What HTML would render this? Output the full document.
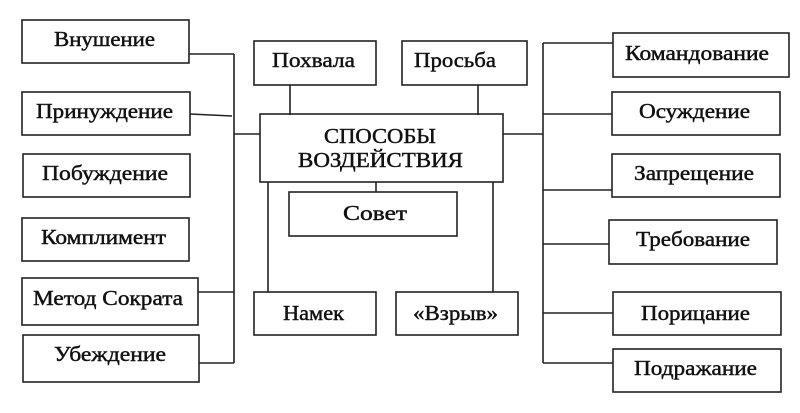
<!DOCTYPE html>
<html><head><meta charset="utf-8"><style>
html,body{margin:0;padding:0;background:#fff;}
svg{display:block;}
text{font-family:"Liberation Serif",serif;font-size:21px;fill:#111;stroke:#111;stroke-width:0.45;}
</style></head><body>
<svg width="800" height="413" viewBox="0 0 800 413" xmlns="http://www.w3.org/2000/svg">
<g fill="none" stroke="#222" stroke-width="1.6">
<rect x="22" y="20" width="167" height="43"/>
<rect x="22" y="92" width="168" height="43"/>
<rect x="23" y="154" width="167" height="43"/>
<rect x="22" y="218" width="167" height="43"/>
<rect x="22" y="278" width="176" height="47"/>
<rect x="23" y="335" width="176" height="47"/>
<rect x="254" y="41" width="122" height="44"/>
<rect x="402" y="41" width="125" height="44"/>
<rect x="260" y="114" width="243" height="68"/>
<rect x="289" y="192" width="168" height="44"/>
<rect x="254" y="292" width="122" height="43"/>
<rect x="396" y="292" width="122" height="43"/>
<rect x="613" y="33" width="176" height="44"/>
<rect x="612" y="92" width="168" height="43"/>
<rect x="612" y="154" width="168" height="43"/>
<rect x="609" y="220" width="168" height="44"/>
<rect x="613" y="292" width="168" height="43"/>
<rect x="613" y="349" width="168" height="43"/>
<path d="M234 54V363M189 54H234M190 114L232 116M198 292H234M199 363H234M234 134H260"/>
<path d="M290 85V115M478 85V115M376 182V192M268 182V292M493 182V292"/>
<path d="M543 43V363M503 134H543M543 43H613M543 114H612M543 190H612M543 244H609M543 313H613M543 363H613"/>
</g>
<text x="54" y="46" textLength="101" lengthAdjust="spacingAndGlyphs">Внушение</text>
<text x="36" y="118" textLength="137" lengthAdjust="spacingAndGlyphs">Принуждение</text>
<text x="42" y="180" textLength="126" lengthAdjust="spacingAndGlyphs">Побуждение</text>
<text x="41" y="244" textLength="125" lengthAdjust="spacingAndGlyphs">Комплимент</text>
<text x="33" y="305" textLength="150" lengthAdjust="spacingAndGlyphs">Метод Сократа</text>
<text x="54" y="361" textLength="112" lengthAdjust="spacingAndGlyphs">Убеждение</text>
<text x="272" y="67" textLength="83" lengthAdjust="spacingAndGlyphs">Похвала</text>
<text x="414" y="67" textLength="82" lengthAdjust="spacingAndGlyphs">Просьба</text>
<text x="324" y="143" textLength="112" lengthAdjust="spacingAndGlyphs">СПОСОБЫ</text>
<text x="298" y="167" textLength="165" lengthAdjust="spacingAndGlyphs">ВОЗДЕЙСТВИЯ</text>
<text x="343" y="220" textLength="64" lengthAdjust="spacingAndGlyphs">Совет</text>
<text x="283" y="320" textLength="61" lengthAdjust="spacingAndGlyphs">Намек</text>
<text x="413" y="320" textLength="85" lengthAdjust="spacingAndGlyphs">«Взрыв»</text>
<text x="625" y="60" textLength="144" lengthAdjust="spacingAndGlyphs">Командование</text>
<text x="639" y="118" textLength="111" lengthAdjust="spacingAndGlyphs">Осуждение</text>
<text x="634" y="180" textLength="120" lengthAdjust="spacingAndGlyphs">Запрещение</text>
<text x="636" y="246" textLength="114" lengthAdjust="spacingAndGlyphs">Требование</text>
<text x="641" y="320" textLength="109" lengthAdjust="spacingAndGlyphs">Порицание</text>
<text x="634" y="375" textLength="123" lengthAdjust="spacingAndGlyphs">Подражание</text>
</svg>
</body></html>
